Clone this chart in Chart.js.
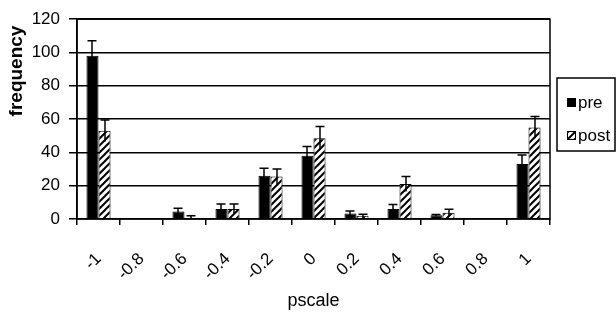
<!DOCTYPE html>
<html>
<head>
<meta charset="utf-8">
<script src="https://cdn.jsdelivr.net/npm/chart.js@4"></script>
<style>
  html,body{margin:0;padding:0;background:#fff;}
  #wrap{width:616px;height:328px;position:relative;}
</style>
</head>
<body>
<div id="wrap"><canvas id="chart"></canvas></div>
<script>
// ===== Data =====
const categories = ['-1','-0.8','-0.6','-0.4','-0.2','0','0.2','0.4','0.6','0.8','1'];
const preValues  = [98, 0, 4.5, 6, 26, 38, 3.3, 6, 2.2, 0, 33];
const preErrors  = [9, 0, 2, 3, 4.5, 5.5, 1.5, 2.7, 0.5, 0, 5.5];
const postValues = [53, 0.4, 0.4, 6, 25.5, 48.5, 2, 21, 3.8, 0, 55];
const postErrors = [6.5, 0, 1.6, 3, 4.5, 7, 0.8, 4.5, 2, 0, 6.5];
const seriesNames = ['pre','post'];
const yMax = 120, yStep = 20;

const FONT = "'Liberation Sans', Arial, sans-serif";
Chart.defaults.font.family = FONT;
Chart.defaults.color = '#000';

// ===== Hatch fill for "post" =====
function makeHatch(){
  const s = 7, c = document.createElement('canvas');
  c.width = c.height = s;
  const g = c.getContext('2d');
  g.fillStyle = '#fff'; g.fillRect(0,0,s,s);
  g.strokeStyle = '#000'; g.lineWidth = 2;
  g.beginPath();
  g.moveTo(0,s); g.lineTo(s,0);
  g.moveTo(-2,2); g.lineTo(2,-2);
  g.moveTo(s-2,s+2); g.lineTo(s+2,s-2);
  g.stroke();
  return g.createPattern(c,'repeat');
}
const hatch = makeHatch();

// ===== Plugins =====
const errorBars = {
  id:'errorBars',
  afterDatasetsDraw(chart){
    const {ctx} = chart, y = chart.scales.y;
    const errs = [preErrors, postErrors];
    ctx.save();
    ctx.strokeStyle = '#000'; ctx.lineWidth = 1.5;
    chart.data.datasets.forEach((ds,di)=>{
      chart.getDatasetMeta(di).data.forEach((bar,i)=>{
        const e = errs[di][i]; if (!e) return;
        const v = ds.data[i];
        const x = Math.round(bar.x);
        const top = y.getPixelForValue(v+e), bot = y.getPixelForValue(Math.max(0,v-e));
        ctx.beginPath();
        ctx.moveTo(x,bot); ctx.lineTo(x,top);
        ctx.moveTo(x-4.5,top); ctx.lineTo(x+4.5,top);
        ctx.stroke();
      });
    });
    ctx.restore();
  }
};

const decor = {
  id:'decor',
  afterDraw(chart){
    const {ctx, chartArea:a} = chart;
    ctx.save();
    // plot frame
    ctx.strokeStyle = '#000'; ctx.lineWidth = 1.5;
    ctx.strokeRect(a.left, a.top, a.right-a.left, a.bottom-a.top);
    // y title
    ctx.translate(17, 71); ctx.rotate(-Math.PI/2);
    ctx.font = 'bold 19px ' + FONT; ctx.textAlign = 'center'; ctx.textBaseline = 'middle';
    ctx.fillStyle = '#000'; ctx.fillText('frequency', 0, 0);
    ctx.restore();

    // legend box
    ctx.save();
    ctx.strokeStyle = '#000'; ctx.lineWidth = 1.5;
    ctx.fillStyle = '#fff';
    ctx.fillRect(557, 78, 58, 73); ctx.strokeRect(557, 78, 58, 73);
    ctx.font = '17px ' + FONT; ctx.textBaseline = 'middle'; ctx.textAlign = 'left';
    const fills = ['#000', hatch];
    seriesNames.forEach((name,i)=>{
      const cy = 102 + i*33;
      ctx.fillStyle = fills[i];
      ctx.fillRect(567, cy-4, 8, 8);
      ctx.lineWidth = 1; ctx.strokeRect(567.5, cy-3.5, 8, 8);
      ctx.fillStyle = '#000';
      ctx.fillText(name, 578, cy+1);
    });
    ctx.restore();
  }
};

// ===== Chart =====
new Chart(document.getElementById('chart'), {
  type:'bar',
  data:{
    labels: categories,
    datasets:[
      { label:seriesNames[0], data:preValues, backgroundColor:'#000', borderColor:'#000', borderWidth:1,
        categoryPercentage:0.56, barPercentage:1 },
      { label:seriesNames[1], data:postValues, backgroundColor:hatch, borderColor:'#000', borderWidth:1,
        categoryPercentage:0.56, barPercentage:1 }
    ]
  },
  options:{
    responsive:true, maintainAspectRatio:false, animation:false,
    layout:{ padding:{ top:10, right:66, left:0, bottom:0 } },
    plugins:{ legend:{ display:false }, tooltip:{ enabled:false } },
    scales:{
      x:{
        grid:{ drawOnChartArea:false, tickLength:6, color:'#000', lineWidth:1.5 },
        border:{ display:false },
        ticks:{ font:{ size:17 }, minRotation:45, maxRotation:45, padding:24, autoSkip:false },
        title:{ display:true, text:'pscale', font:{ size:18 }, padding:{ top:0, bottom:16 } },
        afterFit: s => { s.height = 109; }
      },
      y:{
        min:0, max:yMax,
        grid:{ color:'#000', lineWidth:1.5, tickLength:8 },
        border:{ color:'#000', width:1.5 },
        ticks:{ stepSize:yStep, font:{ size:17 }, padding:9 },
        afterFit: s => { s.width = 77; }
      }
    }
  },
  plugins:[errorBars, decor]
});
</script>
</body>
</html>
